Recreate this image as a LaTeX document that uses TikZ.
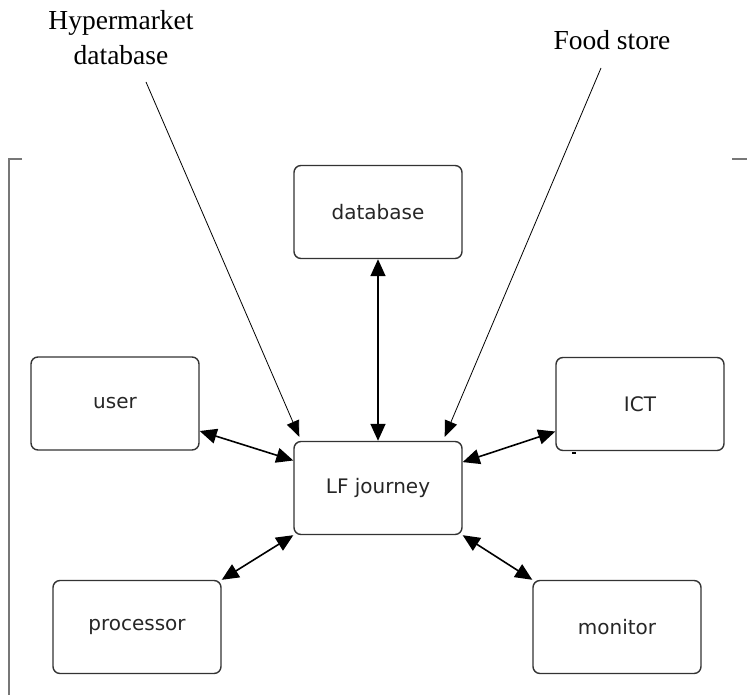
\documentclass[tikz,border=0pt]{standalone}
\usepackage{fontspec}
\setmainfont{Liberation Serif}
\newfontfamily\boxfont{DejaVu Sans}
\usetikzlibrary{arrows.meta,calc}

\definecolor{edgegray}{HTML}{333333}
\definecolor{framegray}{HTML}{777777}

\tikzset{
  unit/.style={draw=edgegray, line width=1.4pt, rounded corners=7pt,
    minimum width=168pt, minimum height=93pt, inner sep=0pt,
    font=\boxfont\fontsize{20}{24}\selectfont, text=black!85},
  link/.style={black, line width=1.6pt,
    {Triangle[length=17pt,width=15pt]}-{Triangle[length=17pt,width=15pt]}},
  pointer/.style={black, line width=0.8pt, -{Triangle[length=16pt,width=13pt]}},
  caption/.style={font=\fontsize{27.5}{35}\selectfont, align=center, inner sep=0pt},
  frame/.style={framegray, line width=2pt}
}

\begin{document}
\begin{tikzpicture}[x=1pt, y=-1pt]
  \useasboundingbox (0,0) rectangle (747,695);

  % open frame around the system
  \draw[frame] (22,159) -- (9,159) -- (9,695);
  \draw[frame] (732,159) -- (747,159);

  % components
  \node[unit] (db)   at (378,212)   {database};
  \node[unit] (user) at (115,403.5) {user};
  \node[unit] (ict)  at (640,404)   {ICT};
  \node[unit] (lf)   at (378,488)   {LF journey};
  \node[unit] (proc) at (137,627)   {processor};
  \node[unit] (mon)  at (617,627)   {monitor};

  % data exchanges with the journey
  \draw[link] (db.south) -- (lf.north);
  \draw[link] (user.-18) -- (lf.162);
  \draw[link] (lf.17) -- (ict.-162);
  \draw[link] (lf.south west) -- (proc.north east);
  \draw[link] (lf.south east) -- (mon.north west);

  % small mark under the ICT box
  \fill[black] (572,451.5) rectangle (576,453.5);

  % external sources
  \node[caption] (hyper) at (121,38) {Hypermarket\\database};
  \node[caption] (food)  at (612,40) {Food store};
  \coordinate (hyperfoot) at (146,82);
  \coordinate (foodfoot)  at (601,68);
  \draw[pointer] (hyperfoot) -- ($(lf.north west)+(6,-4)$);
  \draw[pointer] (foodfoot) -- ($(lf.north east)+(-18,-4)$);
\end{tikzpicture}
\end{document}
